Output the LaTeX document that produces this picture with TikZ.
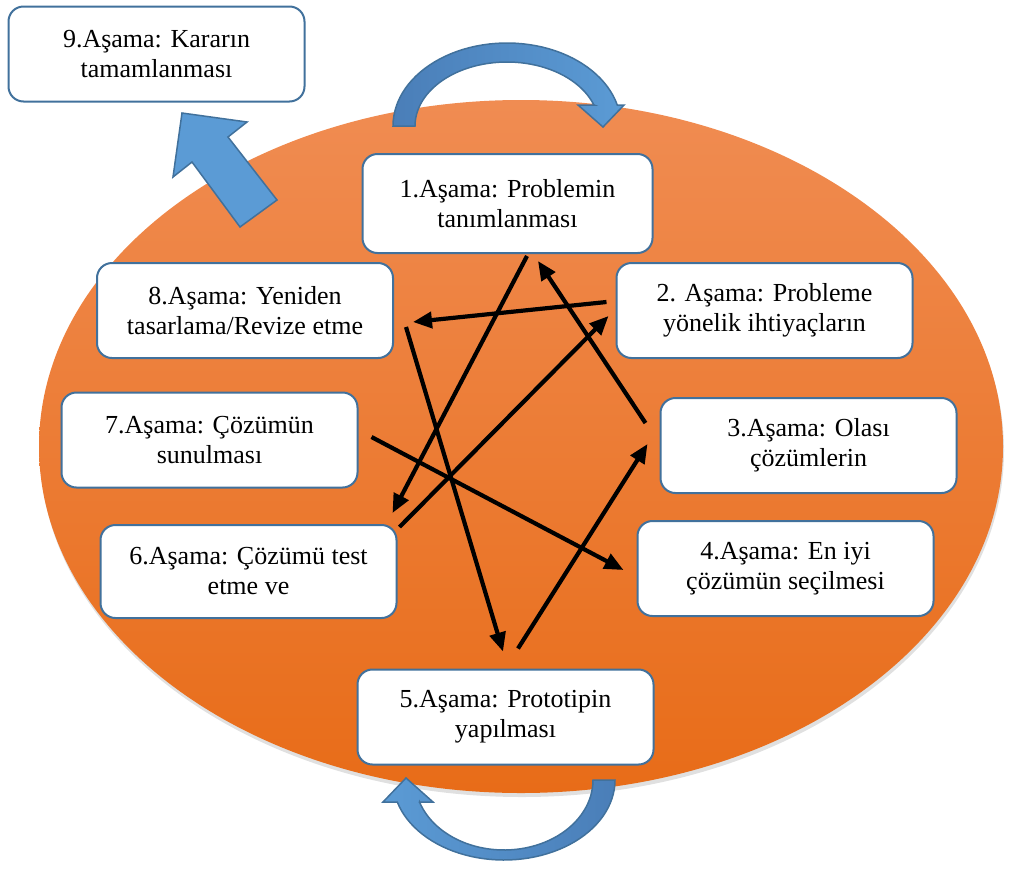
\documentclass[tikz,border=0pt]{standalone}
\usepackage{fontspec}
\setmainfont{Liberation Serif}
\usepackage{tikz}
\usetikzlibrary{arrows.meta,positioning}
\usepackage{xcolor}
\definecolor{stageblue}{HTML}{41719C}
\definecolor{arrowblue}{HTML}{5B9BD5}
\definecolor{arrowdark}{HTML}{4A7EB8}
\definecolor{ovaltop}{HTML}{F08C52}
\definecolor{ovalbot}{HTML}{E86C18}

\begin{document}
\begin{tikzpicture}[x=1pt, y=-1pt,
  stagebox/.style={draw=stageblue, line width=2pt, rounded corners=15pt, fill=white,
    minimum width=296pt, minimum height=95pt, inner sep=0pt, align=center,
    font=\rmfamily\fontsize{26}{30}\selectfont},
  flowarrow/.style={line width=4.2pt, -{Triangle[length=19pt,width=16pt]}},
  blockarrow/.style={draw=stageblue, line width=1.5pt, line join=miter}]
  \useasboundingbox (0,0) rectangle (1009,868);

  \fill[black!12] (522,450.5) ellipse [x radius=482, y radius=346.5];
  \shade[top color=ovaltop, bottom color=ovalbot] (521,446.5) ellipse [x radius=482, y radius=346.5];

  \filldraw[blockarrow, fill=arrowblue] (182,113) -- (247,122) -- (228,137) -- (277,200)
    -- (240,227) -- (192,162) -- (173,177) -- cycle;
  \filldraw[blockarrow, left color=arrowdark, right color=arrowblue]
    (393,126) -- plot[domain=180:14.65, samples=50] ({507+114*cos(\x)}, {126-83*sin(\x)})
    -- (624,105) -- (603,127) -- (578,105) -- (594,105)
    -- plot[domain=19.2:180, samples=50] ({507+92*cos(\x)}, {126-64*sin(\x)}) -- cycle;
  \filldraw[blockarrow, left color=arrowblue, right color=arrowdark]
    (615,780) -- plot[domain=0:164.04, samples=50] ({504+111*cos(\x)}, {780+80*sin(\x)})
    -- (383,802) -- (406,778) -- (433,802) -- (419.5,802)
    -- plot[domain=161.7:0, samples=50] ({504+89*cos(\x)}, {780+70*sin(\x)}) -- cycle;

  \node[stagebox] (n9) at (156.5,54) {9.Aşama: Kararın\\tamamlanması};
  \node[stagebox, minimum width=290pt, minimum height=99pt] (n1) at (507.5,203.5) {1.Aşama: Problemin\\tanımlanması};
  \node[stagebox] (n2) at (764.5,310.5) {2. Aşama: Probleme\\yönelik ihtiyaçların};
  \node[stagebox] (n3) at (808.5,445.5) {3.Aşama: Olası\\çözümlerin};
  \node[stagebox] (n4) at (785.5,568.5) {4.Aşama: En iyi\\çözümün seçilmesi};
  \node[stagebox] (n5) at (505.5,717) {5.Aşama: Prototipin\\yapılması};
  \node[stagebox, minimum height=93pt] (n6) at (248.5,571.5) {6.Aşama: Çözümü test\\etme ve};
  \node[stagebox] (n7) at (209.5,440) {7.Aşama: Çözümün\\sunulması};
  \node[stagebox] (n8) at (245,310.5) {8.Aşama: Yeniden\\tasarlama/Revize etme};

  \draw[flowarrow] ([shift={(19.5,2)}]n1.south) -- ([shift={(-5,-11)}]n6.north east);
  \draw[flowarrow] ([shift={(-14,-22.5)}]n3.west) -- ([shift={(30.5,7)}]n1.south);
  \draw[flowarrow] ([shift={(-9,-8.5)}]n2.west) -- ([shift={(19,11.5)}]n8.east);
  \draw[flowarrow] ([shift={(12,16.5)}]n8.east) -- ([shift={(-2.5,-17)}]n5.north);
  \draw[flowarrow] ([shift={(13,-3)}]n7.east) -- ([shift={(-13,1.5)}]n4.west);
  \draw[flowarrow] ([shift={(2,3)}]n6.north east) -- ([shift={(-7,5.5)}]n2.west);
  \draw[flowarrow] ([shift={(12.5,-20)}]n5.north) -- ([shift={(-12,-1.5)}]n3.west);
\end{tikzpicture}
\end{document}
